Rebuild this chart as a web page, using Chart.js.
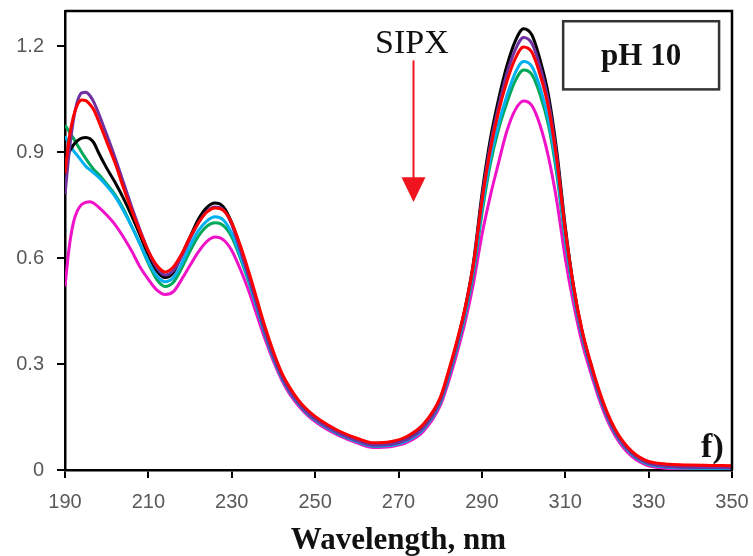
<!DOCTYPE html>
<html>
<head>
<meta charset="utf-8">
<script src="https://cdn.jsdelivr.net/npm/chart.js@4/dist/chart.umd.min.js"></script>
<style>
  html, body { margin: 0; padding: 0; background: #fff; }
  #wrap { width: 753px; height: 556px; position: relative; }
</style>
</head>
<body>
<div id="wrap"><canvas id="c"></canvas></div>
<script>
// ---- data ----
const wavelength = [190,191,192,193,194,195,196,197,198,200,202,204,206,208,210,212,214,216,218,220,222,224,226,228,230,232,234,236,238,240,242,244,246,248,250,253,256,260,264,268,272,276,280,282,284,286,288,290,292,294,296,298,300,302,304,306,308,310,312,314,316,318,320,322,324,326,328,330,335,340,345,350];

const seriesBlack = [0.87,0.90,0.92,0.933,0.94,0.942,0.938,0.925,0.90,
  0.855,0.815,0.77,0.72,0.665,0.61,0.565,0.545,0.56,0.61,0.66,0.71,0.743,0.756,0.745,0.70,0.63,0.555,0.475,0.395,0.325,0.268,0.225,0.192,0.166,0.146,
  0.123,0.104,0.085,0.072,0.074,0.088,0.123,
  0.2,0.275,0.36,0.46,0.59,0.78,0.935,1.05,1.145,1.215,1.25,1.232,1.16,1.06,0.90,0.69,0.52,0.395,0.305,0.225,0.16,0.11,0.074,0.049,0.031,0.02,
  0.011,0.009,0.008,0.007];

const seriesPurple = [0.78,0.90,0.99,1.045,1.068,1.07,1.06,1.04,1.012,
  0.95,0.885,0.815,0.745,0.68,0.62,0.573,0.552,0.565,0.605,0.655,0.70,0.732,0.745,0.737,0.695,0.625,0.55,0.47,0.39,0.322,0.265,0.222,0.19,0.164,0.144,
  0.121,0.102,0.083,0.07,0.072,0.086,0.12,
  0.196,0.27,0.355,0.455,0.583,0.767,0.918,1.03,1.123,1.19,1.225,1.208,1.14,1.042,0.885,0.68,0.515,0.39,0.3,0.222,0.157,0.107,0.072,0.047,0.03,0.019,
  0.01,0.008,0.007,0.006];

const seriesRed = [0.84,0.94,1.0,1.035,1.048,1.046,1.035,1.018,0.99,
  0.93,0.87,0.80,0.735,0.675,0.62,0.58,0.561,0.575,0.612,0.66,0.70,0.73,0.742,0.735,0.70,0.638,0.565,0.485,0.405,0.335,0.275,0.232,0.198,0.172,0.152,
  0.128,0.109,0.09,0.077,0.08,0.095,0.13,
  0.205,0.28,0.365,0.46,0.585,0.76,0.905,1.015,1.1,1.165,1.198,1.183,1.118,1.025,0.875,0.68,0.52,0.398,0.308,0.23,0.165,0.115,0.079,0.053,0.035,0.024,
  0.016,0.014,0.013,0.012];

const seriesCyan = [0.945,0.925,0.905,0.89,0.875,0.86,0.85,0.84,0.83,
  0.805,0.775,0.735,0.69,0.64,0.59,0.55,0.533,0.545,0.585,0.635,0.678,0.705,0.717,0.708,0.67,0.608,0.54,0.462,0.385,0.318,0.262,0.22,0.188,0.162,0.142,
  0.119,0.1,0.081,0.068,0.07,0.083,0.117,
  0.192,0.265,0.35,0.445,0.57,0.74,0.88,0.98,1.06,1.125,1.157,1.143,1.082,0.99,0.85,0.66,0.505,0.385,0.297,0.218,0.154,0.105,0.07,0.045,0.028,0.017,
  0.008,0.006,0.005,0.004];

const seriesGreen = [0.977,0.958,0.94,0.92,0.90,0.882,0.865,0.85,0.838,
  0.81,0.78,0.74,0.69,0.64,0.585,0.54,0.52,0.532,0.572,0.62,0.662,0.69,0.70,0.692,0.66,0.602,0.535,0.46,0.383,0.317,0.262,0.22,0.188,0.162,0.142,
  0.119,0.1,0.081,0.068,0.07,0.083,0.117,
  0.19,0.262,0.345,0.44,0.56,0.725,0.865,0.965,1.04,1.102,1.133,1.12,1.062,0.975,0.835,0.65,0.5,0.382,0.295,0.217,0.153,0.104,0.069,0.044,0.027,0.016,
  0.008,0.006,0.005,0.004];

const seriesMagenta = [0.52,0.63,0.70,0.735,0.752,0.758,0.76,0.755,0.745,
  0.722,0.695,0.66,0.62,0.575,0.54,0.51,0.497,0.505,0.54,0.58,0.618,0.647,0.66,0.652,0.622,0.57,0.51,0.44,0.37,0.308,0.255,0.213,0.182,0.157,0.137,
  0.114,0.096,0.077,0.064,0.066,0.078,0.11,
  0.182,0.25,0.33,0.42,0.53,0.665,0.775,0.87,0.96,1.02,1.045,1.032,0.975,0.885,0.76,0.6,0.47,0.362,0.28,0.205,0.143,0.096,0.062,0.038,0.022,0.012,
  0.004,0.002,0.001,0.001];

const xTicks = [190,210,230,250,270,290,310,330,350];
const yTicks = [0,0.3,0.6,0.9,1.2];
const xTitle = 'Wavelength, nm';
const phLabel = 'pH 10';
const arrowLabel = 'SIPX';
const panelLabel = 'f)';

// ---- chart ----
const toXY = arr => wavelength.map((w, i) => ({x: w, y: arr[i]}));
function ds(data, color) {
  return { data: toXY(data), borderColor: color, backgroundColor: color, borderWidth: 3,
           pointRadius: 0, fill: false, cubicInterpolationMode: 'monotone' };
}

const annotPlugin = {
  id: 'annot',
  afterDatasetsDraw(chart) {
    const {ctx, chartArea: a, scales: {x, y}} = chart;
    ctx.save();
    // frame top/right
    ctx.strokeStyle = '#000';
    ctx.lineWidth = 2.5;
    ctx.beginPath();
    ctx.moveTo(a.left, a.top); ctx.lineTo(a.right, a.top); ctx.lineTo(a.right, a.bottom);
    ctx.stroke();
    // pH box
    const bx0 = x.getPixelForValue(309.5), bx1 = x.getPixelForValue(346.9);
    const by0 = y.getPixelForValue(1.271), by1 = y.getPixelForValue(1.078);
    ctx.strokeStyle = '#333';
    ctx.lineWidth = 2.5;
    ctx.strokeRect(bx0, by0, bx1 - bx0, by1 - by0);
    ctx.fillStyle = '#111';
    ctx.font = 'bold 31px "Liberation Serif", "Times New Roman", serif';
    ctx.textAlign = 'center';
    ctx.textBaseline = 'alphabetic';
    ctx.fillText(phLabel, (bx0 + bx1) / 2, y.getPixelForValue(1.146));
    // SIPX label
    ctx.font = '34px "Liberation Serif", "Times New Roman", serif';
    ctx.fillText(arrowLabel, x.getPixelForValue(273.2), y.getPixelForValue(1.18));
    // arrow
    const ax = x.getPixelForValue(273.6);
    const ayTop = y.getPixelForValue(1.16), ayHead = y.getPixelForValue(0.829), ayTip = y.getPixelForValue(0.759);
    ctx.strokeStyle = '#F0141E';
    ctx.fillStyle = '#F0141E';
    ctx.lineWidth = 2;
    ctx.beginPath(); ctx.moveTo(ax, ayTop); ctx.lineTo(ax, ayHead + 1); ctx.stroke();
    ctx.beginPath();
    ctx.moveTo(ax - 12, ayHead); ctx.lineTo(ax + 12, ayHead); ctx.lineTo(ax, ayTip); ctx.closePath();
    ctx.fill();
    // panel label
    ctx.fillStyle = '#111';
    ctx.font = 'bold 34px "Liberation Serif", "Times New Roman", serif';
    ctx.fillText(panelLabel, x.getPixelForValue(345.3), y.getPixelForValue(0.037));
    ctx.restore();
  }
};

new Chart(document.getElementById('c'), {
  type: 'line',
  data: {
    datasets: [
      ds(seriesRed, '#FF0000'),
      ds(seriesPurple, '#7030A0'),
      ds(seriesBlack, '#000000'),
      ds(seriesCyan, '#00B0F0'),
      ds(seriesGreen, '#00A859'),
      ds(seriesMagenta, '#F012C8')
    ]
  },
  options: {
    responsive: true,
    maintainAspectRatio: false,
    animation: false,
    layout: { padding: { left: 0, right: 21, top: 11, bottom: 0 } },
    plugins: { legend: { display: false }, tooltip: { enabled: false } },
    scales: {
      x: {
        type: 'linear', min: 190, max: 350,
        afterBuildTicks: s => { s.ticks = xTicks.map(v => ({value: v})); },
        afterFit: s => { s.height = 86; s.paddingLeft = 0; s.paddingRight = 0; },
        border: { display: true, color: '#000', width: 2.5 },
        grid: { drawOnChartArea: false, drawTicks: true, tickLength: 8, color: '#000', lineWidth: 2 },
        ticks: { color: '#595959', padding: 12, font: { family: '"Liberation Sans", Arial, sans-serif', size: 20 },
                 maxRotation: 0, callback: v => String(v) },
        title: { display: true, text: xTitle, color: '#111', padding: { top: 0, bottom: 0 },
                 font: { family: '"Liberation Serif", "Times New Roman", serif', size: 31, weight: 'bold', lineHeight: 1.0 } }
      },
      y: {
        type: 'linear', min: 0, max: 1.3,
        afterBuildTicks: s => { s.ticks = yTicks.map(v => ({value: v})); },
        afterFit: s => { s.width = 65; s.paddingTop = 0; s.paddingBottom = 0; },
        border: { display: true, color: '#000', width: 2.5 },
        grid: { drawOnChartArea: false, drawTicks: true, tickLength: 8, color: '#000', lineWidth: 2 },
        ticks: { color: '#595959', padding: 13, font: { family: '"Liberation Sans", Arial, sans-serif', size: 20 },
                 callback: v => v === 0 ? '0' : v.toFixed(1) }
      }
    }
  },
  plugins: [annotPlugin]
});
</script>
</body>
</html>
